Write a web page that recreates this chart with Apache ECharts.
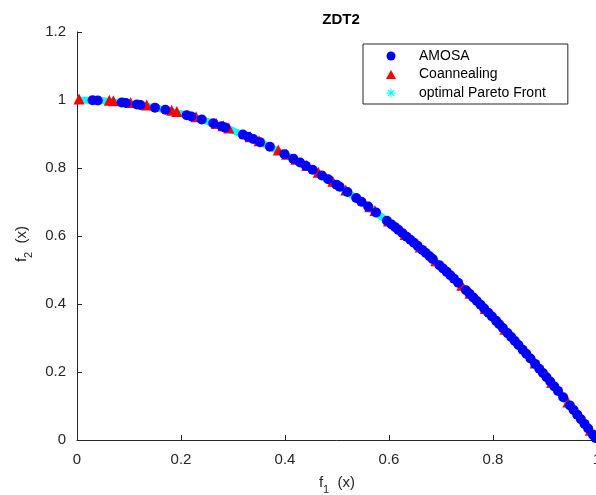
<!DOCTYPE html>
<html>
<head>
<meta charset="utf-8">
<title>ZDT2</title>
<script src="https://cdn.jsdelivr.net/npm/echarts@6/dist/echarts.min.js"></script>
<style>
  html, body { margin: 0; padding: 0; background: #ffffff; }
  #chart { width: 596px; height: 495px; }
</style>
</head>
<body>
<div id="chart"></div>
<script>
// Axis ticks
const xTicks = [0, 0.2, 0.4, 0.6, 0.8, 1];
const yTicks = [0, 0.2, 0.4, 0.6, 0.8, 1, 1.2];

// Legend / series names
const seriesNames = ['AMOSA', 'Coannealing', 'optimal Pareto Front'];

// Optimal Pareto front of ZDT2
const frontF1 = [0, 0.05, 0.1, 0.15, 0.2, 0.25, 0.3, 0.35, 0.4, 0.45, 0.5,
                 0.55, 0.6, 0.65, 0.7, 0.75, 0.8, 0.85, 0.9, 0.95, 1];
const frontF2 = [1, 0.9975, 0.99, 0.9775, 0.96, 0.9375, 0.91, 0.8775, 0.84, 0.7975, 0.75,
                 0.6975, 0.64, 0.5775, 0.51, 0.4375, 0.36, 0.2775, 0.19, 0.0975, 0];

// AMOSA solutions
const amosaF1 = [0.03, 0.04, 0.086, 0.094, 0.115, 0.122, 0.15, 0.17, 0.211, 0.22,
                 0.24, 0.262, 0.278, 0.285, 0.319, 0.329, 0.339, 0.352, 0.371, 0.399,
                 0.416, 0.429, 0.44, 0.453, 0.471, 0.483, 0.499, 0.505, 0.52, 0.537,
                 0.547, 0.56, 0.575, 0.596, 0.605, 0.612, 0.618, 0.626, 0.634, 0.641,
                 0.648, 0.655, 0.664, 0.671, 0.678, 0.684, 0.697, 0.704, 0.711, 0.718,
                 0.725, 0.733, 0.748, 0.755, 0.762, 0.769, 0.776, 0.783, 0.791, 0.798,
                 0.806, 0.812, 0.819, 0.828, 0.835, 0.842, 0.849, 0.857, 0.864, 0.872,
                 0.881, 0.889, 0.896, 0.903, 0.91, 0.918, 0.925, 0.935, 0.948, 0.955,
                 0.962, 0.969, 0.976, 0.983, 0.992, 0.997];
const amosaF2 = [0.9991, 0.9984, 0.9926, 0.9912, 0.9868, 0.9851, 0.9775, 0.9711, 0.9555, 0.9516,
                 0.9424, 0.9314, 0.9227, 0.9188, 0.8982, 0.8918, 0.8851, 0.8761, 0.8624, 0.8408,
                 0.8269, 0.8160, 0.8064, 0.7948, 0.7782, 0.7667, 0.7510, 0.7450, 0.7296, 0.7116,
                 0.7008, 0.6864, 0.6694, 0.6448, 0.6340, 0.6255, 0.6181, 0.6081, 0.5980, 0.5891,
                 0.5801, 0.5710, 0.5591, 0.5498, 0.5403, 0.5321, 0.5142, 0.5044, 0.4945, 0.4845,
                 0.4744, 0.4627, 0.4405, 0.4300, 0.4194, 0.4086, 0.3978, 0.3869, 0.3743, 0.3632,
                 0.3504, 0.3407, 0.3292, 0.3144, 0.3028, 0.2910, 0.2792, 0.2656, 0.2535, 0.2396,
                 0.2238, 0.2097, 0.1972, 0.1846, 0.1719, 0.1573, 0.1444, 0.1258, 0.1013, 0.0880,
                 0.0746, 0.0610, 0.0474, 0.0337, 0.0159, 0.0060];

// Coannealing solutions
const coanF1 = [0.004, 0.062, 0.07, 0.103, 0.134, 0.182, 0.192, 0.229, 0.268, 0.281,
                0.292, 0.333, 0.35, 0.387, 0.403, 0.421, 0.442, 0.464, 0.492, 0.517,
                0.563, 0.573, 0.599, 0.631, 0.66, 0.69, 0.74, 0.756, 0.785, 0.823,
                0.881, 0.913, 0.944, 0.987];
const coanF2 = [1.0000, 0.9962, 0.9951, 0.9894, 0.9820, 0.9669, 0.9631, 0.9476, 0.9282, 0.9210,
                0.9147, 0.8891, 0.8775, 0.8502, 0.8376, 0.8228, 0.8046, 0.7847, 0.7579, 0.7327,
                0.6830, 0.6717, 0.6412, 0.6018, 0.5644, 0.5239, 0.4524, 0.4285, 0.3838, 0.3227,
                0.2238, 0.1664, 0.1089, 0.0258];

const pairs = (xs, ys) => xs.map((x, i) => [x, ys[i]]);

// Filled asterisk glyph used as the legend icon of the front
const asteriskIcon = 'path://M4.4,0H5.6V10H4.4Z M0,4.4H10V5.6H0Z ' +
  'M1.1,1.9L1.9,1.1L8.9,8.1L8.1,8.9Z M8.1,1.1L8.9,1.9L1.9,8.9L1.1,8.1Z';

const FONT = '"Liberation Sans", Arial, Helvetica, sans-serif';
const AXIS_COLOR = '#262626';

function axisCommon(ticks, labelMargin) {
  return {
    type: 'value',
    min: ticks[0],
    max: ticks[ticks.length - 1],
    interval: ticks[1] - ticks[0],
    splitLine: { show: false },
    axisLine: { show: true, onZero: false, lineStyle: { color: AXIS_COLOR, width: 1 } },
    axisTick: { show: true, inside: true, length: 5, lineStyle: { color: AXIS_COLOR, width: 1 } },
    axisLabel: { color: AXIS_COLOR, fontSize: 15, fontFamily: FONT, margin: labelMargin },
    nameLocation: 'middle'
  };
}

function nameStyle(padding) {
  return {
    color: AXIS_COLOR,
    fontFamily: FONT,
    padding: padding,
    rich: {
      i: { fontSize: 15, fontFamily: FONT, color: AXIS_COLOR, lineHeight: 16, verticalAlign: 'top' },
      s: { fontSize: 11, fontFamily: FONT, color: AXIS_COLOR, lineHeight: 12, verticalAlign: 'top', padding: [9, 0, 0, 0] }
    }
  };
}

const chart = echarts.init(document.getElementById('chart'), null, { renderer: 'canvas' });

chart.setOption({
  animation: false,
  backgroundColor: '#ffffff',
  title: {
    text: 'ZDT2',
    left: 336,
    textAlign: 'center',
    top: 7,
    textStyle: { fontSize: 15, fontWeight: 'bold', color: '#000000', fontFamily: FONT }
  },
  grid: { left: 77, top: 32, width: 520, height: 408, containLabel: false, outerBoundsMode: 'none' },
  xAxis: Object.assign(axisCommon(xTicks, 12), {
    name: '{i|f}{s|1}{i|  (x)}',
    nameGap: 35,
    nameTextStyle: nameStyle([0, 0, 0, 0])
  }),
  yAxis: Object.assign(axisCommon(yTicks, 11), {
    name: '{i|f}{s|2}{i|  (x)}',
    nameGap: 42,
    nameRotate: 90,
    nameTextStyle: nameStyle([0, 16, 0, 0])
  }),
  legend: {
    orient: 'vertical',
    left: 363,
    top: 44,
    padding: [5, 22, 4, 23],
    itemWidth: 10,
    itemHeight: 9,
    itemGap: 4.5,
    borderColor: AXIS_COLOR,
    borderWidth: 1,
    backgroundColor: '#ffffff',
    selectedMode: false,
    textStyle: { fontSize: 14, color: '#000000', fontFamily: FONT, lineHeight: 14, padding: [0, 0, 0, 18] },
    data: [
      { name: seriesNames[0], icon: 'circle' },
      { name: seriesNames[1], icon: 'triangle' },
      { name: seriesNames[2], icon: asteriskIcon }
    ]
  },
  series: [
    {
      name: seriesNames[2],
      type: 'line',
      z: 1,
      data: pairs(frontF1, frontF2),
      showSymbol: false,
      symbol: 'none',
      color: '#00ffff',
      lineStyle: { color: '#00ffff', width: 7, opacity: 1 },
      silent: true
    },
    {
      name: seriesNames[1],
      type: 'scatter',
      z: 2,
      data: pairs(coanF1, coanF2),
      symbol: 'triangle',
      symbolSize: 11,
      symbolOffset: [0, -1],
      itemStyle: { color: '#ff0000', opacity: 1 },
      silent: true
    },
    {
      name: seriesNames[0],
      type: 'scatter',
      z: 3,
      data: pairs(amosaF1, amosaF2),
      symbol: 'circle',
      symbolSize: 10,
      itemStyle: { color: '#0000ff', opacity: 1 },
      silent: true
    }
  ]
});
</script>
</body>
</html>
